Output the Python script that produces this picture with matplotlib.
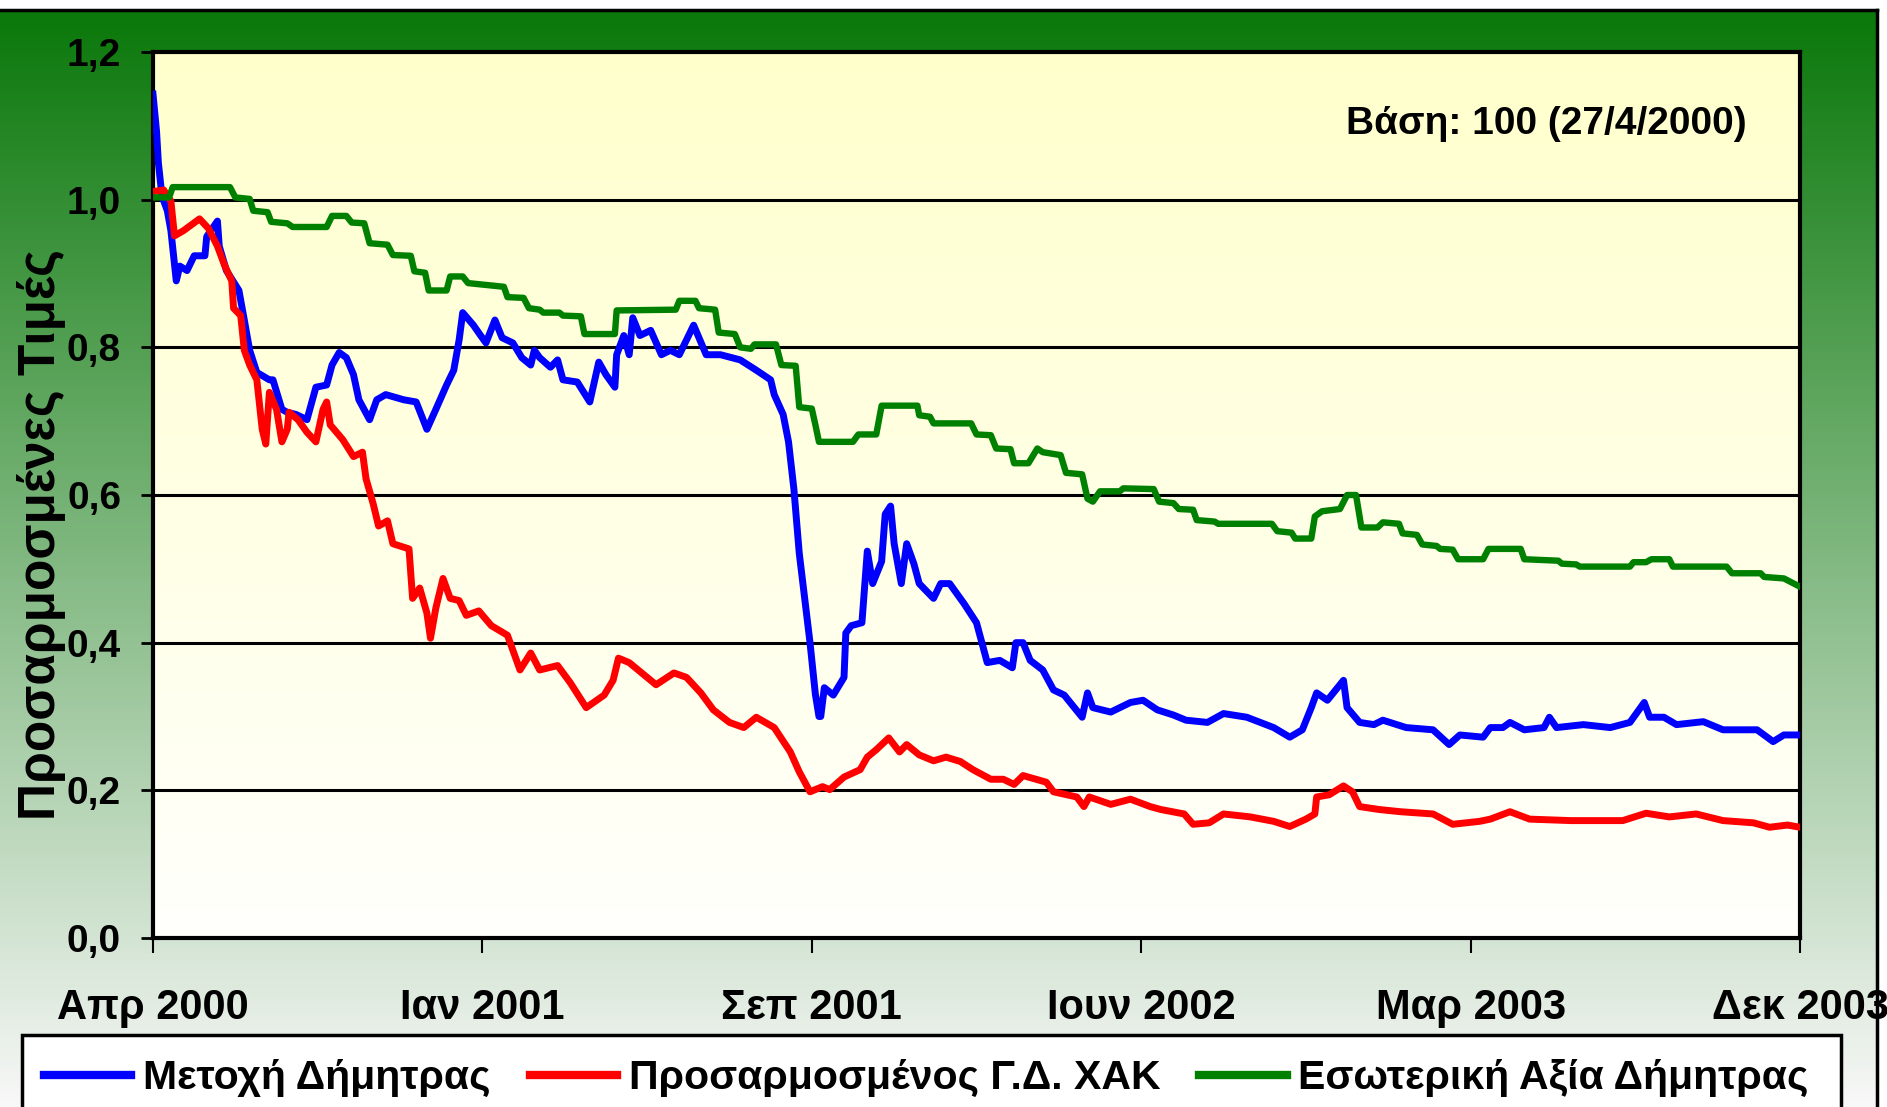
import matplotlib
matplotlib.use('Agg')
import matplotlib.pyplot as plt
import numpy as np
from matplotlib.patches import Rectangle

# trading-day index (0 = 27/4/2000, 920 = end Dec 2003)
stock_x = [0, 2, 3, 5, 8, 10, 13, 15, 19, 23, 29, 30, 36, 37, 41, 48, 51, 54, 58, 65, 67, 72, 75, 80, 86,
           91, 97, 100, 104, 108, 112, 115, 121, 125, 130, 140, 147, 153, 158, 164, 168, 171, 173, 179,
           183, 186, 191, 195, 201, 206, 211, 213, 216, 222, 226, 229, 237, 244, 249, 253, 258, 259, 263,
           266, 268, 272, 278, 284, 289, 294, 302, 309, 317, 328, 337, 345, 347, 352, 355, 358, 361, 364,
           367, 370, 372, 373, 375, 380, 386, 387, 390, 396, 397, 399, 402, 407, 409, 412, 414, 418, 421,
           425, 428, 436, 440, 445, 453, 460, 466, 473, 480, 482, 486, 490, 497, 503, 509, 519, 522, 525,
           535, 546, 553, 561, 570, 577, 589, 598, 611, 626, 635, 642, 647, 650, 656, 665, 667, 674, 682,
           687, 700, 715, 724, 730, 743, 747, 754, 758, 766, 777, 780, 784, 799, 814, 825, 833, 836, 844,
           851, 866, 877, 896, 905, 911, 920]
stock_y = [1.143, 1.092, 1.05, 1.005, 0.985, 0.958, 0.89, 0.91, 0.904, 0.924, 0.924, 0.95, 0.971, 0.937,
           0.904, 0.877, 0.837, 0.796, 0.766, 0.756, 0.756, 0.716, 0.712, 0.709, 0.702, 0.746, 0.749,
           0.776, 0.793, 0.786, 0.763, 0.729, 0.702, 0.729, 0.736, 0.729, 0.726, 0.689, 0.716, 0.749,
           0.769, 0.81, 0.847, 0.83, 0.816, 0.806, 0.837, 0.813, 0.806, 0.786, 0.776, 0.796, 0.786,
           0.773, 0.783, 0.756, 0.753, 0.726, 0.78, 0.763, 0.746, 0.79, 0.816, 0.79, 0.84, 0.816, 0.823,
           0.79, 0.796, 0.79, 0.83, 0.79, 0.79, 0.783, 0.769, 0.756, 0.736, 0.709, 0.672, 0.608, 0.521,
           0.46, 0.40, 0.33, 0.30, 0.30, 0.339, 0.329, 0.353, 0.413, 0.423, 0.427, 0.46, 0.524, 0.48,
           0.51, 0.574, 0.585, 0.534, 0.48, 0.534, 0.507, 0.48, 0.46, 0.48, 0.48, 0.453, 0.427, 0.373,
           0.376, 0.366, 0.4, 0.4, 0.376, 0.363, 0.336, 0.329, 0.299, 0.332, 0.312, 0.306, 0.319, 0.322,
           0.309, 0.302, 0.295, 0.292, 0.304, 0.299, 0.285, 0.272, 0.282, 0.312, 0.332, 0.322, 0.349,
           0.312, 0.292, 0.289, 0.295, 0.285, 0.282, 0.262, 0.275, 0.272, 0.285, 0.285, 0.292, 0.282,
           0.285, 0.299, 0.285, 0.289, 0.285, 0.292, 0.319, 0.299, 0.299, 0.289, 0.293, 0.282, 0.282,
           0.266, 0.275, 0.275]

index_x = [0, 6, 10, 12, 17, 26, 31, 36, 40, 44, 45, 49, 51, 54, 58, 61, 63, 65, 69, 72, 75, 76, 81, 86,
           91, 95, 97, 99, 106, 112, 117, 119, 123, 126, 131, 134, 143, 145, 149, 153, 155, 158, 162, 166,
           171, 175, 182, 189, 198, 205, 211, 216, 226, 233, 242, 252, 257, 260, 266, 276, 281, 291, 298,
           306, 313, 322, 330, 337, 347, 356, 361, 367, 374, 378, 386, 395, 399, 404, 411, 417, 421, 428,
           436, 443, 451, 458, 468, 475, 481, 486, 499, 503, 516, 520, 523, 535, 546, 557, 563, 576, 581,
           590, 598, 613, 626, 635, 644, 649, 650, 657, 665, 670, 674, 685, 697, 715, 726, 741, 747, 758,
           769, 792, 821, 834, 847, 862, 877, 894, 903, 913, 920]
index_y = [1.011, 1.013, 0.998, 0.951, 0.958, 0.974, 0.961, 0.937, 0.911, 0.89, 0.853, 0.843, 0.796,
           0.776, 0.756, 0.689, 0.669, 0.739, 0.716, 0.672, 0.689, 0.712, 0.702, 0.685, 0.672, 0.716,
           0.726, 0.695, 0.675, 0.652, 0.658, 0.622, 0.588, 0.558, 0.565, 0.534, 0.527, 0.46, 0.474,
           0.44, 0.406, 0.447, 0.487, 0.46, 0.457, 0.437, 0.443, 0.423, 0.41, 0.363, 0.386, 0.363,
           0.369, 0.346, 0.312, 0.329, 0.349, 0.379, 0.373, 0.353, 0.343, 0.359, 0.353, 0.332, 0.309,
           0.292, 0.285, 0.299, 0.285, 0.252, 0.225, 0.198, 0.205, 0.201, 0.218, 0.228, 0.245, 0.255,
           0.271, 0.252, 0.262, 0.248, 0.24, 0.245, 0.239, 0.228, 0.215, 0.215, 0.208, 0.22, 0.211,
           0.198, 0.191, 0.178, 0.191, 0.181, 0.188, 0.178, 0.174, 0.168, 0.154, 0.156, 0.168, 0.164,
           0.158, 0.151, 0.161, 0.168, 0.191, 0.194, 0.206, 0.198, 0.178, 0.174, 0.171, 0.168, 0.154,
           0.158, 0.161, 0.171, 0.161, 0.159, 0.159, 0.169, 0.164, 0.168, 0.159, 0.156, 0.15, 0.153, 0.15]

nav_x = [0, 9, 11, 43, 46, 54, 56, 64, 66, 75, 78, 97, 100, 108, 111, 118, 121, 131, 134, 144, 146, 152,
         154, 164, 166, 173, 176, 196, 198, 207, 210, 216, 218, 227, 229, 239, 241, 258, 259, 292, 294,
         303, 305, 314, 316, 325, 328, 334, 336, 348, 351, 359, 361, 368, 370, 372, 391, 394, 404, 407,
         427, 428, 434, 436, 457, 460, 468, 471, 479, 481, 489, 494, 497, 507, 510, 519, 522, 525, 529,
         540, 542, 559, 562, 570, 573, 581, 583, 593, 595, 625, 628, 636, 638, 647, 649, 653, 663, 667,
         672, 675, 684, 687, 696, 698, 706, 709, 717, 719, 726, 729, 743, 746, 764, 766, 785, 787, 795,
         797, 825, 827, 834, 837, 847, 849, 879, 882, 898, 900, 911, 919]
nav_y = [1.003, 1.003, 1.017, 1.017, 1.003, 1.001, 0.985, 0.983, 0.97, 0.968, 0.963, 0.963, 0.978,
         0.978, 0.969, 0.968, 0.941, 0.939, 0.925, 0.924, 0.903, 0.901, 0.877, 0.877, 0.896, 0.896,
         0.887, 0.882, 0.868, 0.867, 0.853, 0.851, 0.847, 0.847, 0.843, 0.842, 0.818, 0.818, 0.85,
         0.851, 0.863, 0.863, 0.853, 0.851, 0.82, 0.818, 0.8, 0.798, 0.804, 0.804, 0.776, 0.775,
         0.719, 0.717, 0.695, 0.672, 0.672, 0.682, 0.682, 0.721, 0.721, 0.708, 0.706, 0.697, 0.697,
         0.682, 0.681, 0.663, 0.662, 0.643, 0.643, 0.663, 0.658, 0.654, 0.63, 0.628, 0.595, 0.591,
         0.605, 0.605, 0.609, 0.608, 0.591, 0.589, 0.581, 0.58, 0.566, 0.564, 0.561, 0.561, 0.551,
         0.549, 0.541, 0.541, 0.571, 0.578, 0.581, 0.6, 0.6, 0.556, 0.556, 0.563, 0.561, 0.548,
         0.546, 0.533, 0.531, 0.527, 0.526, 0.513, 0.513, 0.527, 0.527, 0.513, 0.511, 0.507, 0.506,
         0.503, 0.503, 0.509, 0.509, 0.513, 0.513, 0.503, 0.503, 0.494, 0.494, 0.489, 0.487, 0.477]

tick_pos = [0, 184, 368, 552, 736, 920]
tick_labels = ['Απρ 2000', 'Ιαν 2001', 'Σεπ 2001', 'Ιουν 2002', 'Μαρ 2003', 'Δεκ 2003']
y_ticks = [0.0, 0.2, 0.4, 0.6, 0.8, 1.0, 1.2]
series_names = ['Μετοχή Δήμητρας', 'Προσαρμοσμένος Γ.Δ. ΧΑΚ', 'Εσωτερική Αξία Δήμητρας']

plt.rcParams['font.family'] = ['Liberation Sans', 'DejaVu Sans']
plt.rcParams['font.weight'] = 'bold'

W, H = 1887, 1107
fig = plt.figure(figsize=(W / 100, H / 100), dpi=100)
fig.patch.set_facecolor('white')

# outer green gradient frame
bg = fig.add_axes([0, 0, 1877 / W, 1 - 10 / H], zorder=-5)
t = np.linspace(0, 1, 256)[:, None]
top_c = np.array([10, 120, 10]) / 255
bot_c = np.array([248, 248, 248]) / 255
grad = top_c * (1 - t[..., None]) + bot_c * t[..., None]
bg.imshow(grad, aspect='auto', extent=[0, 1, 0, 1], origin='upper')
bg.set_xticks([])
bg.set_yticks([])
for s in ['left', 'bottom']:
    bg.spines[s].set_visible(False)
for s in ['top', 'right']:
    bg.spines[s].set_linewidth(2.5)
    bg.spines[s].set_color('black')

ax = fig.add_axes([153 / W, 1 - 938 / H, (1800 - 153) / W, (938 - 52) / H])
pg = np.linspace(0, 1, 256)[:, None, None]
pgrad = np.array([1, 1, 0.80]) * (1 - pg) + np.array([1, 1, 0.99]) * pg
ax.imshow(pgrad, aspect='auto', extent=[0, 920, 0, 1.2], origin='upper', zorder=0)

ax.plot(stock_x, stock_y, color='#0000FF', lw=5, zorder=3, label=series_names[0])
ax.plot(index_x, index_y, color='#FF0000', lw=5, zorder=3, label=series_names[1])
ax.plot(nav_x, nav_y, color='#008000', lw=4.6, zorder=3, label=series_names[2])

ax.set_xlim(0, 920)
ax.set_ylim(0, 1.2)
for yv in y_ticks[1:-1]:
    ax.axhline(yv, color='black', lw=2.2, zorder=1)
ax.set_yticks(y_ticks)
ax.set_yticklabels([f'{v:.1f}'.replace('.', ',') for v in y_ticks], fontsize=28, fontweight='bold')
ax.set_xticks(tick_pos)
ax.set_xticklabels(tick_labels, fontsize=30, fontweight='bold')
ax.tick_params(axis='y', direction='out', length=9, width=2, pad=14)
ax.tick_params(axis='x', direction='out', length=11, width=1.5, pad=25)
for s in ax.spines.values():
    s.set_linewidth(3.0)
    s.set_color('black')

fig.text(42 / W, 1 - 535 / H, 'Προσαρμοσμένες Τιμές', rotation=90, ha='center', va='center',
         fontsize=37, fontweight='bold')
fig.text(1747 / W, 1 - 124 / H, 'Βάση: 100 (27/4/2000)', ha='right', va='center',
         fontsize=28, fontweight='bold')

# legend box running off the bottom of the picture
fig.patches.append(Rectangle((22 / W, -0.05), (1841 - 22) / W, 0.05 + 1 - 1035 / H,
                             transform=fig.transFigure, facecolor='white', edgecolor='black',
                             lw=2.5, zorder=1))
handles, labels = ax.get_legend_handles_labels()
leg = fig.legend(handles, labels, loc='center left', bbox_to_anchor=(44 / W, 1 - 1078 / H),
                 ncol=3, frameon=False, fontsize=29.5, handlelength=2.13, handletextpad=0.29,
                 columnspacing=0.95, borderpad=0, borderaxespad=0)
for line in leg.get_lines():
    line.set_linewidth(6)
for txt in leg.get_texts():
    txt.set_fontweight('bold')
leg.set_zorder(5)

fig.savefig('out.png', dpi=100)
